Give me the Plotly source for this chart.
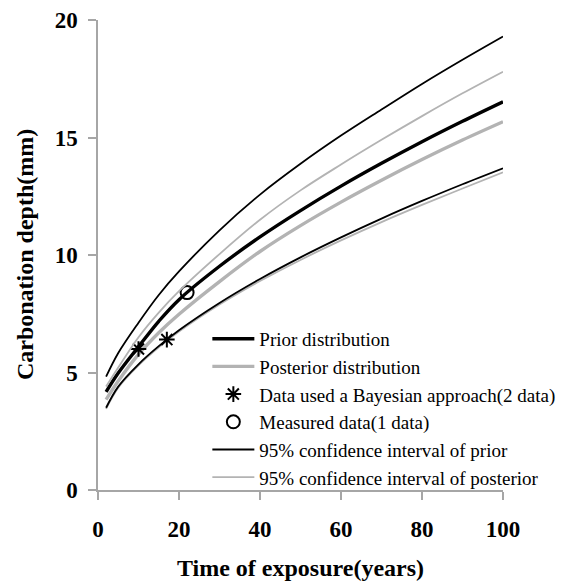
import plotly.graph_objects as go

# Exposure time (years) at which the curves are sampled
years = [2, 5, 10, 15, 20, 30, 40, 50, 60, 70, 80, 90, 100]

# Carbonation depth (mm)
prior_mean = [4.18, 4.98, 6.10, 7.18, 8.10, 9.52, 10.77, 11.89, 12.93, 13.90, 14.82, 15.69, 16.52]
posterior_mean = [3.85, 4.64, 5.77, 6.69, 7.48, 8.87, 10.15, 11.25, 12.25, 13.18, 14.06, 14.89, 15.67]
prior_upper = [4.82, 5.83, 7.12, 8.30, 9.30, 11.05, 12.57, 13.88, 15.08, 16.19, 17.28, 18.31, 19.30]
prior_lower = [3.50, 4.40, 5.35, 6.12, 6.80, 7.96, 8.98, 9.90, 10.75, 11.55, 12.30, 13.01, 13.69]
posterior_upper = [4.40, 5.21, 6.50, 7.55, 8.46, 10.04, 11.50, 12.75, 13.85, 14.90, 15.91, 16.88, 17.80]
posterior_lower = [3.45, 4.35, 5.30, 6.07, 6.74, 7.89, 8.89, 9.79, 10.62, 11.40, 12.13, 12.83, 13.52]

# Observations
bayes_years = [10, 17]
bayes_depth = [6.0, 6.4]
measured_years = [22]
measured_depth = [8.4]

x_ticks = [0, 20, 40, 60, 80, 100]
y_ticks = [0, 5, 10, 15, 20]

BLACK = "#000000"
GRAY = "#b3b3b3"
AXIS = "#a6a6a6"
SERIF = "Liberation Serif"

fig = go.Figure()


def curve(y, color, width, name, show=True):
    return go.Scatter(
        x=years, y=y, mode="lines", name=name, showlegend=show,
        line=dict(color=color, width=width, shape="spline", smoothing=1.0),
        cliponaxis=False,
    )


# lower bounds first so the other curves sit on top
fig.add_trace(curve(posterior_lower, GRAY, 1.8, "posterior lower", show=False))
fig.add_trace(curve(prior_lower, BLACK, 1.8, "prior lower", show=False))
fig.add_trace(curve(prior_mean, BLACK, 3.4, "Prior distribution"))
fig.add_trace(curve(posterior_mean, GRAY, 3.4, "Posterior distribution"))
fig.add_trace(go.Scatter(
    x=bayes_years, y=bayes_depth, mode="markers",
    name="Data used a Bayesian approach(2 data)",
    marker=dict(symbol="asterisk-open", size=13, color=BLACK,
                line=dict(color=BLACK, width=2)),
    cliponaxis=False,
))
fig.add_trace(go.Scatter(
    x=measured_years, y=measured_depth, mode="markers",
    name="Measured data(1 data)",
    marker=dict(symbol="circle-open", size=13, color=BLACK,
                line=dict(color=BLACK, width=2)),
    cliponaxis=False,
))
fig.add_trace(curve(prior_upper, BLACK, 1.8, "95% confidence interval of prior"))
fig.add_trace(curve(posterior_upper, GRAY, 1.8, "95% confidence interval of posterior"))

fig.update_layout(
    width=585, height=581,
    margin=dict(l=98, r=82, t=20, b=91),
    paper_bgcolor="white", plot_bgcolor="white",
    font=dict(family=SERIF, color=BLACK),
    showlegend=True,
    legend=dict(
        x=0.27, y=0.362, xanchor="left", yanchor="top",
        bgcolor="rgba(0,0,0,0)", borderwidth=0,
        font=dict(family=SERIF, size=19, color=BLACK),
        traceorder="normal", itemwidth=42,
    ),
    xaxis=dict(
        range=[0, 100], tickvals=x_ticks, ticktext=[str(v) for v in x_ticks],
        showgrid=False, zeroline=False, automargin=False,
        showline=True, linecolor=AXIS, linewidth=1.5,
        ticks="outside", ticklen=8, tickcolor=AXIS, tickwidth=1.5,
        ticklabelstandoff=10,
        tickfont=dict(family=SERIF, size=23, color=BLACK, weight="bold"),
        title=dict(text="<b>Time of exposure(years)</b>", standoff=30,
                   font=dict(family=SERIF, size=24, color=BLACK)),
    ),
    yaxis=dict(
        range=[0, 20], tickvals=y_ticks, ticktext=[str(v) for v in y_ticks],
        showgrid=False, zeroline=False, automargin=False,
        showline=True, linecolor=AXIS, linewidth=1.5,
        ticks="outside", ticklen=8, tickcolor=AXIS, tickwidth=1.5,
        ticklabelstandoff=6,
        tickfont=dict(family=SERIF, size=23, color=BLACK, weight="bold"),
    ),
    annotations=[dict(
        text="<b>Carbonation depth(mm)</b>", textangle=-90,
        xref="paper", yref="paper", x=-0.18, y=0.5,
        xanchor="center", yanchor="middle", showarrow=False,
        font=dict(family=SERIF, size=24, color=BLACK),
    )],
)

fig.write_html("out.html")
